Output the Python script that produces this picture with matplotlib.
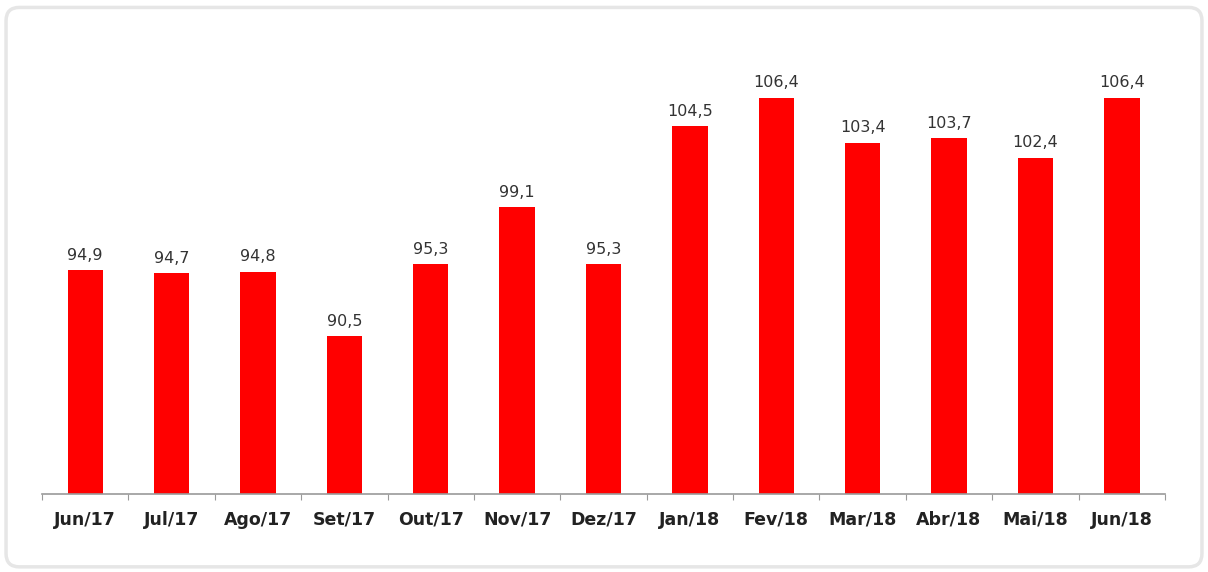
import matplotlib.pyplot as plt
from matplotlib.patches import FancyBboxPatch

meses = ['Jun/17', 'Jul/17', 'Ago/17', 'Set/17', 'Out/17', 'Nov/17', 'Dez/17',
         'Jan/18', 'Fev/18', 'Mar/18', 'Abr/18', 'Mai/18', 'Jun/18']
valores = [94.9, 94.7, 94.8, 90.5, 95.3, 99.1, 95.3,
           104.5, 106.4, 103.4, 103.7, 102.4, 106.4]

fig = plt.figure(figsize=(12.08, 5.72), dpi=100)

# rounded light border around the card (behind the axes)
borda = FancyBboxPatch((0.005, 0.009), 0.99, 0.978, boxstyle='round,pad=0,rounding_size=0.011',
                       transform=fig.transFigure, facecolor='white', edgecolor='#e6e6e6',
                       linewidth=2.5, mutation_aspect=1208 / 572, zorder=-5)
fig.patches.append(borda)

ax = fig.add_axes([0.0348, 0.1364, 0.9296, 0.787])
ax.set_facecolor('none')
x = range(len(meses))
bars = ax.bar(x, valores, width=0.41, color='#ff0000', zorder=2)

for b, v in zip(bars, valores):
    ax.text(b.get_x() + b.get_width() / 2, v + 0.5, f'{v:.1f}'.replace('.', ','),
            ha='center', va='bottom', fontsize=11.5, color='#333333')

ax.set_ylim(80, 110)
ax.set_xlim(-0.5, len(meses) - 0.5)
for s in ['top', 'right', 'left']:
    ax.spines[s].set_visible(False)
ax.spines['bottom'].set_color('#9a9a9a')
ax.spines['bottom'].set_linewidth(1.2)
ax.set_yticks([])

ax.set_xticks([i - 0.5 for i in range(len(meses) + 1)], minor=False)
ax.set_xticklabels([])
ax.tick_params(axis='x', which='major', length=4, color='#9a9a9a')
ax.set_xticks(list(x), minor=True)
ax.set_xticklabels(meses, minor=True, fontsize=12.5, fontweight='bold', color='#222222')
ax.tick_params(axis='x', which='minor', length=0, pad=12)

fig.savefig('out.png', dpi=100)
